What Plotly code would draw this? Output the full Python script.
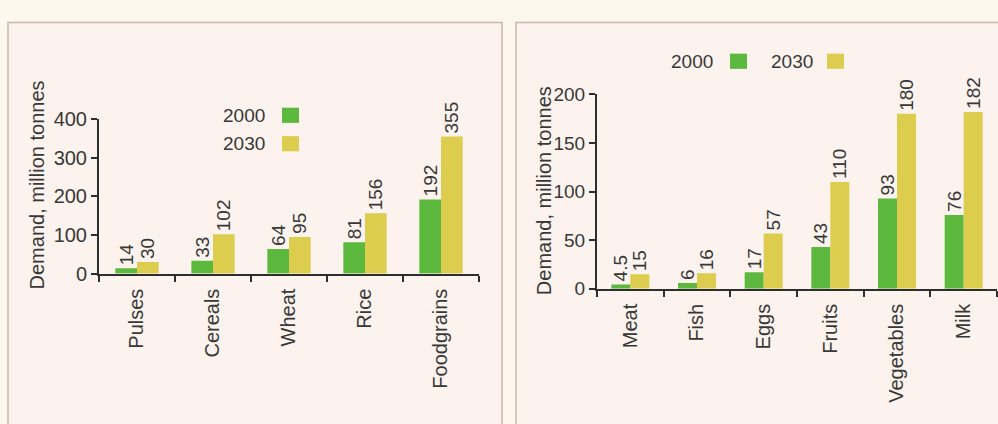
import plotly.graph_objects as go

# Food demand in India, million tonnes: 2000 vs projected 2030
grain_categories = ["Pulses", "Cereals", "Wheat", "Rice", "Foodgrains"]
grain_2000 = [14, 33, 64, 81, 192]
grain_2030 = [30, 102, 95, 156, 355]
grain_labels_2000 = ["14", "33", "64", "81", "192"]
grain_labels_2030 = ["30", "102", "95", "156", "355"]

other_categories = ["Meat", "Fish", "Eggs", "Fruits", "Vegetables", "Milk"]
other_2000 = [4.5, 6, 17, 43, 93, 76]
other_2030 = [15, 16, 57, 110, 180, 182]
other_labels_2000 = ["4.5", "6", "17", "43", "93", "76"]
other_labels_2030 = ["15", "16", "57", "110", "180", "182"]

grain_ticks = [0, 100, 200, 300, 400]
other_ticks = [0, 50, 100, 150, 200]

series_names = ["2000", "2030"]

W, H = 998, 424
GREEN = "#5db93d"
YELLOW = "#dccd4f"
TEXT = "#383838"
AXIS = "#2e2e2e"
FONT = "Liberation Sans, Arial, sans-serif"
PANEL_BG = "#fcf3ee"
PAGE_BG = "#fdf7ee"
BORDER = "#c7b8a8"


def px_x(x):
    return x / W


def px_y(y):
    return 1 - y / H


fig = go.Figure()


def add_bars(cats, vals, labels, color, name, xa, ya):
    fig.add_trace(go.Bar(
        x=cats, y=vals, name=name, marker=dict(color=color, line=dict(width=0)),
        text=labels, textposition="outside", textangle=-90,
        textfont=dict(family=FONT, size=19, color=TEXT),
        constraintext="none", cliponaxis=False,
        xaxis=xa, yaxis=ya, showlegend=False,
    ))


add_bars(grain_categories, grain_2000, grain_labels_2000, GREEN, series_names[0], "x", "y")
add_bars(grain_categories, grain_2030, grain_labels_2030, YELLOW, series_names[1], "x", "y")
add_bars(other_categories, other_2000, other_labels_2000, GREEN, series_names[0], "x2", "y2")
add_bars(other_categories, other_2030, other_labels_2030, YELLOW, series_names[1], "x2", "y2")

xaxis_common = dict(
    showline=True, linecolor=AXIS, linewidth=2, ticks="outside", tickson="boundaries",
    ticklen=6, tickwidth=2, tickcolor=AXIS, tickangle=-90, showgrid=False,
    ticklabelstandoff=5,
    tickfont=dict(family=FONT, size=20, color=TEXT), fixedrange=True,
)
yaxis_common = dict(
    showline=True, linecolor=AXIS, linewidth=2, ticks="outside", ticklen=6,
    tickwidth=2, tickcolor=AXIS, showgrid=False, zeroline=False, fixedrange=True,
)

fig.update_layout(
    width=W, height=H, margin=dict(l=0, r=0, t=0, b=0),
    paper_bgcolor=PAGE_BG, plot_bgcolor="rgba(0,0,0,0)",
    barmode="group", bargap=0.43, bargroupgap=0,
    showlegend=False,
    xaxis=dict(domain=[px_x(99), px_x(479)], anchor="y", **xaxis_common),
    yaxis=dict(domain=[px_y(277), px_y(114)], anchor="x", range=[0, 400],
               tickvals=grain_ticks, tickfont=dict(family=FONT, size=20, color=TEXT),
               **yaxis_common),
    xaxis2=dict(domain=[px_x(597), px_x(997)], anchor="y2", **xaxis_common),
    yaxis2=dict(domain=[px_y(293), px_y(88)], anchor="x2", range=[0, 200],
                tickvals=other_ticks, tickfont=dict(family=FONT, size=19, color=TEXT),
                **yaxis_common),
)

shapes = []
annotations = []

# panel frames (open at the bottom and the far right)
for x0, x1 in [(8, 502), (516, 1010)]:
    shapes.append(dict(type="rect", xref="paper", yref="paper", layer="below",
                       x0=px_x(x0), x1=px_x(x1), y0=px_y(470), y1=px_y(12),
                       fillcolor=PANEL_BG, line=dict(color=BORDER, width=1.5)))

# y-axis titles
for xc, yc in [(37, 184), (544, 190)]:
    annotations.append(dict(xref="paper", yref="paper", x=px_x(xc), y=px_y(yc),
                            text="Demand, million tonnes", showarrow=False, textangle=-90,
                            font=dict(family=FONT, size=20, color=TEXT),
                            xanchor="center", yanchor="middle"))


def legend_entry(label, color, text_right, sq_left, yc):
    annotations.append(dict(xref="paper", yref="paper", x=px_x(text_right), y=px_y(yc),
                            text=label, showarrow=False, xanchor="right", yanchor="middle",
                            font=dict(family=FONT, size=19, color=TEXT)))
    shapes.append(dict(type="rect", xref="paper", yref="paper",
                       x0=px_x(sq_left), x1=px_x(sq_left + 17),
                       y0=px_y(yc + 8), y1=px_y(yc - 8),
                       fillcolor=color, line=dict(width=0)))


# left panel legend (stacked)
legend_entry(series_names[0], GREEN, 267, 282, 110)
legend_entry(series_names[1], YELLOW, 267, 282, 140)
# right panel legend (in a row)
legend_entry(series_names[0], GREEN, 715, 730, 53)
legend_entry(series_names[1], YELLOW, 815, 827, 53)

fig.update_layout(shapes=shapes, annotations=annotations)

fig.write_html("out.html")
